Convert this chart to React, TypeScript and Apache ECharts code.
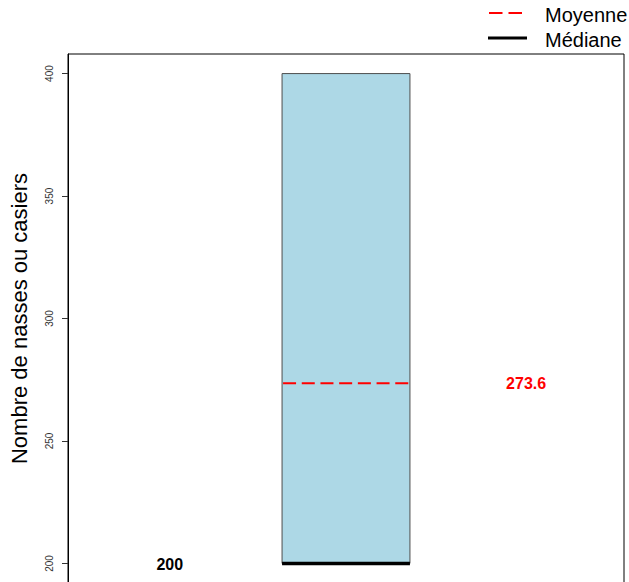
import React, { useEffect, useRef } from "react";
import * as echarts from "echarts";

// Data
const boxPositions = [1];
const boxLower = [200];
const boxUpper = [400];
const medianValues = [200];
const meanValues = [273.6];
const yTicks = [200, 250, 300, 350, 400];
const yTitle = "Nombre de nasses ou casiers";
const legendLabels = ["Moyenne", "Médiane"];

const FONT = '"Liberation Sans", Arial, sans-serif';

export default function App() {
  const ref = useRef<HTMLDivElement>(null);

  useEffect(() => {
    document.body.style.margin = "0";
    document.body.style.overflow = "hidden";
    if (!ref.current) return;
    const chart = echarts.init(ref.current, null, { renderer: "svg" });

    const HW = 0.115;
    const seriesData = boxPositions.map((p, i) => [
      p,
      boxLower[i],
      boxUpper[i],
      medianValues[i],
      meanValues[i],
    ]);

    const option: any = {
      animation: false,
      backgroundColor: "#ffffff",
      grid: {
        left: 68,
        top: 54,
        width: 556,
        height: 529,
        show: true,
        borderColor: "#000",
        borderWidth: 1,
        backgroundColor: "transparent",
      },
      xAxis: {
        type: "value",
        min: 0.5,
        max: 1.5,
        show: false,
      },
      yAxis: {
        type: "value",
        min: 192,
        max: 408,
        name: yTitle,
        nameLocation: "middle",
        nameRotate: 90,
        nameGap: 38,
        nameTextStyle: { fontFamily: FONT, fontSize: 22, color: "#000" },
        splitLine: { show: false },
        axisLine: { show: true, lineStyle: { color: "#000", width: 1 } },
        axisTick: {
          show: true,
          length: 6,
          customValues: yTicks,
          lineStyle: { color: "#333" },
        },
        axisLabel: {
          customValues: yTicks,
          rotate: 90,
          margin: 14,
          fontFamily: FONT,
          fontSize: 10,
          color: "#333",
        },
      },
      series: [
        {
          type: "custom",
          data: seriesData,
          encode: { x: 0, y: [1, 2, 3, 4] },
          renderItem: (params: any, api: any) => {
            const xc = api.value(0);
            const low = api.value(1);
            const high = api.value(2);
            const med = api.value(3);
            const mean = api.value(4);
            const tl = api.coord([xc - HW, high]);
            const br = api.coord([xc + HW, low]);
            const mL = api.coord([xc - HW, med]);
            const mR = api.coord([xc + HW, med]);
            const aL = api.coord([xc - HW, mean]);
            const aR = api.coord([xc + HW, mean]);
            const medLab = api.coord([xc - 0.317, med]);
            const meanLab = api.coord([xc + 0.324, mean]);
            return {
              type: "group",
              children: [
                {
                  type: "rect",
                  shape: {
                    x: tl[0],
                    y: tl[1],
                    width: br[0] - tl[0],
                    height: br[1] - tl[1],
                  },
                  style: { fill: "#ADD8E6", stroke: "#4d4d4d", lineWidth: 1 },
                },
                {
                  type: "line",
                  shape: { x1: aL[0] + 1, y1: aL[1], x2: aR[0] - 1, y2: aR[1] },
                  style: { stroke: "#ff0000", lineWidth: 2, lineDash: [13, 5.7] },
                },
                {
                  type: "line",
                  shape: { x1: mL[0], y1: mL[1], x2: mR[0], y2: mR[1] },
                  style: { stroke: "#000", lineWidth: 3.5 },
                },
                {
                  type: "text",
                  style: {
                    text: String(med),
                    x: medLab[0],
                    y: medLab[1] + 1,
                    align: "center",
                    verticalAlign: "middle",
                    font: `bold 16px ${FONT}`,
                    fill: "#000",
                  },
                },
                {
                  type: "text",
                  style: {
                    text: String(mean),
                    x: meanLab[0],
                    y: meanLab[1],
                    align: "center",
                    verticalAlign: "middle",
                    font: `bold 16px ${FONT}`,
                    fill: "#ff0000",
                  },
                },
              ],
            };
          },
        },
      ],
      graphic: [
        {
          type: "line",
          shape: { x1: 489, y1: 13, x2: 523, y2: 13 },
          style: { stroke: "#ff0000", lineWidth: 2, lineDash: [13.5, 6] },
        },
        {
          type: "line",
          shape: { x1: 488, y1: 38, x2: 527, y2: 38 },
          style: { stroke: "#000", lineWidth: 3 },
        },
        {
          type: "text",
          style: {
            text: legendLabels[0],
            x: 545,
            y: 15,
            align: "left",
            verticalAlign: "middle",
            font: `20px ${FONT}`,
            fill: "#000",
          },
        },
        {
          type: "text",
          style: {
            text: legendLabels[1],
            x: 545,
            y: 40,
            align: "left",
            verticalAlign: "middle",
            font: `20px ${FONT}`,
            fill: "#000",
          },
        },
      ],
    };

    chart.setOption(option);
    return () => chart.dispose();
  }, []);

  return (
    <div
      ref={ref}
      style={{ position: "absolute", left: 0, top: 0, width: 629, height: 600 }}
    />
  );
}
